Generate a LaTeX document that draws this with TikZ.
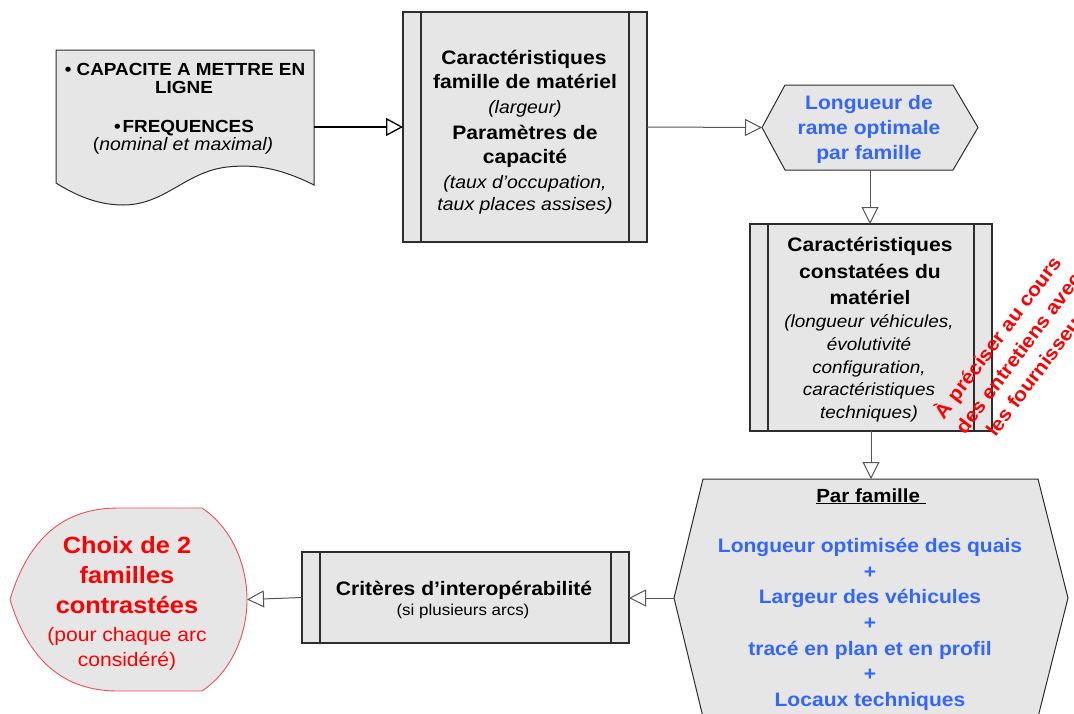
\documentclass[tikz,border=0pt]{standalone}
\usepackage{fontspec}
\setmainfont[FakeStretch=1.08]{Liberation Sans}
\usetikzlibrary{arrows.meta}
\definecolor{boxfill}{RGB}{230,230,230}
\definecolor{bordc}{RGB}{45,45,45}
\definecolor{connc}{RGB}{85,85,85}
\definecolor{bluet}{RGB}{51,102,255}
\definecolor{redt}{RGB}{255,0,0}
\definecolor{shieldc}{RGB}{240,80,80}
\tikzset{
  proc/.style={draw=bordc, fill=boxfill, line width=1.1pt, inner sep=0pt, outer sep=0pt,
    path picture={\draw[bordc, line width=1.1pt]
      ([xshift=18pt]path picture bounding box.north west) -- ([xshift=18pt]path picture bounding box.south west)
      ([xshift=-18pt]path picture bounding box.north east) -- ([xshift=-18pt]path picture bounding box.south east);}},
  ghost/.style={inner sep=0pt, outer sep=0pt, draw=none},
  shapeline/.style={draw=bordc, fill=boxfill, line width=1pt},
  shieldline/.style={draw=shieldc, fill=boxfill, line width=0.9pt},
  t/.style={inner sep=0pt, anchor=base},
  fb/.style={font=\fontsize{19.5}{23}\selectfont\bfseries},
  fdoc/.style={font=\fontsize{17.5}{20}\selectfont\bfseries},
  fdocit/.style={font=\fontsize{18}{20}\selectfont},
  fit2/.style={font=\fontsize{18}{21}\selectfont\itshape},
  fit4/.style={font=\fontsize{17.5}{21}\selectfont\itshape},
  fsmall/.style={font=\fontsize{15.7}{18}\selectfont},
  fredb/.style={font=\fontsize{23.5}{27}\selectfont\bfseries, text=redt},
  fredr/.style={font=\fontsize{19.5}{23}\selectfont, text=redt},
  conn/.style={draw=connc, line width=1pt, -{Triangle[open, length=17pt, width=17pt]}},
  connthick/.style={draw=black, line width=2pt, -{Triangle[open, length=17pt, width=18pt, line width=1.3pt]}},
}
\begin{document}
\begin{tikzpicture}[x=1pt,y=-1pt]
\useasboundingbox (0,0) rectangle (1074,713);
\fill[white] (0,0) rectangle (1074,713);
\clip (0,0) rectangle (1074,713);

% ---------- shapes ----------
% document shape
\node[ghost, minimum width=258pt, minimum height=154pt] (doc) at (185,127) {};
\draw[shapeline] (56,50) -- (314,50) -- (314,185)
  .. controls (280,168) and (255,164) .. (227,167)
  .. controls (185,172) and (165,205) .. (123,205)
  .. controls (95,205) and (72,193) .. (56,183) -- cycle;

% predefined process boxes
\node[proc, minimum width=244pt, minimum height=230pt] (box2) at (525,127) {};
\node[proc, minimum width=242pt, minimum height=207pt] (box4) at (871,327.5) {};
\node[proc, minimum width=327pt, minimum height=91pt] (box6) at (465.5,597.5) {};

% hexagon 3
\node[ghost, minimum width=216pt, minimum height=85pt] (hex3) at (870,127.5) {};
\draw[shapeline] (hex3.west) -- ([xshift=23pt]hex3.north west) -- ([xshift=-25pt]hex3.north east)
  -- (hex3.east) -- ([xshift=-25pt]hex3.south east) -- ([xshift=23pt]hex3.south west) -- cycle;

% hexagon 5
\node[ghost, minimum width=394pt, minimum height=238pt] (hex5) at (871,598) {};
\draw[shapeline] (hex5.west) -- ([xshift=29pt]hex5.north west) -- ([xshift=-30pt]hex5.north east)
  -- (hex5.east) -- ([xshift=-30pt]hex5.south east) -- ([xshift=29pt]hex5.south west) -- cycle;

% shield (display) shape
\node[ghost, minimum width=237pt, minimum height=183pt] (shield) at (128.5,599.5) {};
\draw[shieldline] (10,599.5) .. controls (28,540) and (62,508) .. (118,508) -- (202,508)
  .. controls (232,528) and (247,565) .. (247,599.5)
  .. controls (247,634) and (232,671) .. (202,691) -- (118,691)
  .. controls (62,691) and (28,659) .. (10,599.5) -- cycle;

% ---------- texts ----------
% document
\node[t, fdoc] (d1) at (185,75) {\textbullet\ CAPACITE A METTRE EN};
\node[t, fdoc] (d2) at (184,93) {LIGNE};
\node[t, fdoc] (d3) at (184,132) {\textbullet\kern2pt FREQUENCES};
\node[t, fdocit] (d4) at (183,150) {(\textit{nominal et maximal)}};

% box 2
\node[t, fb] (b2a) at (524,64) {Caractéristiques};
\node[t, fb] (b2b) at (525,88) {famille de matériel};
\node[t, fit2] (b2c) at (525,113) {(largeur)};
\node[t, fb] (b2d) at (525,139) {Paramètres de};
\node[t, fb] (b2e) at (525,163) {capacité};
\node[t, fit2] (b2f) at (525,188) {(taux d’occupation,};
\node[t, fit2] (b2g) at (525,210) {taux places assises)};

% hexagon 3
\node[t, fb, text=bluet] (h3a) at (869,109) {Longueur de};
\node[t, fb, text=bluet] (h3b) at (869,134) {rame optimale};
\node[t, fb, text=bluet] (h3c) at (869,159) {par famille};

% box 4
\node[t, fb] (b4a) at (870,251) {Caractéristiques};
\node[t, fb] (b4b) at (870,278) {constatées du};
\node[t, fb] (b4c) at (870,304) {matériel};
\node[t, fit4] (b4d) at (869,327) {(longueur véhicules,};
\node[t, fit4] (b4e) at (869,350) {évolutivité};
\node[t, fit4] (b4f) at (869,373) {configuration,};
\node[t, fit4] (b4g) at (869,395) {caractéristiques};
\node[t, fit4] (b4h) at (869,418) {techniques)};

% hexagon 5
\node[t, fb, font=\fontsize{19}{23}\selectfont\bfseries] (h5a) at (871,502) {\underline{Par famille\ }};
\node[t, fb, text=bluet] (h5b) at (870,552) {Longueur optimisée des quais};
\node[t, fb, text=bluet] (h5c) at (870,578) {+};
\node[t, fb, text=bluet] (h5d) at (870,603) {Largeur des véhicules};
\node[t, fb, text=bluet] (h5e) at (870,629) {+};
\node[t, fb, text=bluet] (h5f) at (870,655) {tracé en plan et en profil};
\node[t, fb, text=bluet] (h5g) at (870,680) {+};
\node[t, fb, text=bluet] (h5h) at (870,706) {Locaux techniques};

% box 6
\node[t, fb] (b6a) at (464,595) {Critères d’interopérabilité};
\node[t, fsmall] (b6b) at (463,615) {(si plusieurs arcs)};

% shield
\node[t, fredb] (s1) at (127,553) {Choix de 2};
\node[t, fredb] (s2) at (127,583) {familles};
\node[t, fredb] (s3) at (127,613) {contrastées};
\node[t, fredr] (s4) at (127,641) {(pour chaque arc};
\node[t, fredr] (s5) at (127,666) {considéré)};

% ---------- connectors ----------
\draw[connthick] (doc.east) -- (box2.west);
\draw[conn] (box2.east) -- (hex3.west);
\draw[conn] (hex3.south) -- (hex3.south |- box4.north);
\draw[conn] (box4.south) -- (box4.south |- hex5.north);
\draw[conn] (hex5.west) -- (hex5.west -| box6.east);
\draw[conn] (box6.west) -- (shield.east);

% ---------- rotated remark ----------
\node[inner sep=0pt, align=center, rotate=53, text=redt,
      font=\fontsize{19.5}{26}\selectfont\bfseries] (note) at (1017,352)
  {À préciser au cours\\des entretiens avec\\les fournisseurs};
\end{tikzpicture}
\end{document}
